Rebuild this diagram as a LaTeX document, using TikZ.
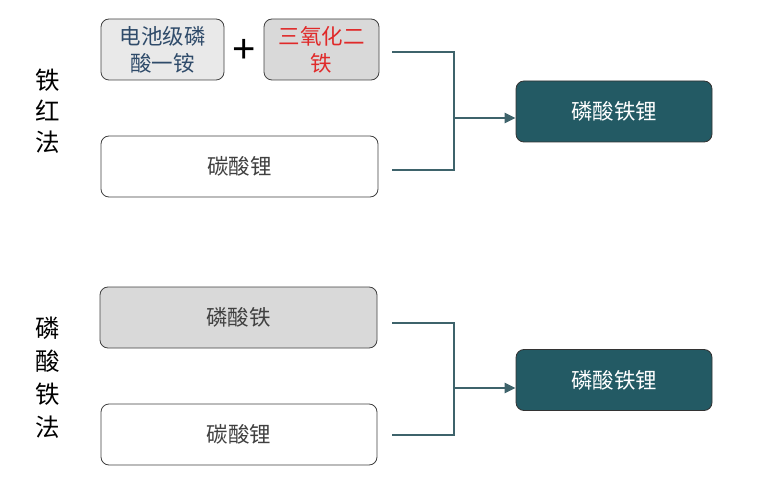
\documentclass[tikz,border=0pt]{standalone}
\usepackage{fontspec}
\setmainfont{Noto Sans CJK SC}
\newfontfamily\plusfont{Liberation Sans}
\usetikzlibrary{arrows.meta}
\definecolor{tealdark}{HTML}{235A64}
\definecolor{linecol}{HTML}{3E636B}
\definecolor{graybox}{HTML}{D9D9D9}
\definecolor{lightbox}{HTML}{E9E9E9}
\definecolor{bluetext}{HTML}{2F4B6A}
\definecolor{redtext}{HTML}{E02A2A}
\definecolor{graytext}{HTML}{404040}

\begin{document}
\begin{tikzpicture}[x=1pt,y=-1pt,
  every node/.style={inner sep=0pt},
  rawbox/.style={draw=black!75,line width=0.8pt,rounded corners=8pt,font=\fontsize{21.5}{27}\selectfont,text=graytext,align=center},
  prodbox/.style={draw=black!80,line width=0.8pt,rounded corners=8pt,fill=tealdark,text=white,font=\fontsize{21.5}{25}\selectfont,minimum width=196pt,minimum height=61pt},
  joinline/.style={draw=linecol,line width=1.3pt},
  feedarrow/.style={draw=linecol,line width=2.8pt,-{Triangle[length=11pt,width=10pt]}},
  sidelabel/.style={font=\fontsize{24.5}{31}\selectfont,align=center,text=black}]
\useasboundingbox (0,0) rectangle (765,486);
% iron red route
\node[rawbox,fill=lightbox,text=bluetext,minimum width=123pt,minimum height=61pt] (nh) at (162.5,49.5) {电池级磷\\酸一铵};
\node[font=\plusfont\fontsize{40}{40}\selectfont] (plus) at (244,51) {+};
\node[rawbox,fill=graybox,text=redtext,minimum width=115pt,minimum height=61pt] (fe) at (321.5,49.5) {三氧化二\\铁};
\node[rawbox,fill=white,minimum width=277pt,minimum height=61pt] (li1) at (239.5,166.5) {碳酸锂};
\node[prodbox] (lfp1) at (614,111.5) {磷酸铁锂};
\node[sidelabel] (route1) at (48,111) {铁\\红\\法};
\coordinate (j1a) at (392,52);
\coordinate (j1b) at (392,170);
\coordinate (j1m) at (454,118);
\draw[joinline] (j1a) -- (j1a -| j1m) -- (j1b -| j1m) -- (j1b);
\draw[feedarrow] (j1m) -- (lfp1.west |- j1m);
% iron phosphate route
\node[rawbox,fill=graybox,minimum width=277pt,minimum height=61pt] (fp) at (238.5,317.5) {磷酸铁};
\node[rawbox,fill=white,minimum width=276pt,minimum height=61pt] (li2) at (239,434.5) {碳酸锂};
\node[prodbox] (lfp2) at (614,380) {磷酸铁锂};
\node[sidelabel,font=\fontsize{24.5}{33}\selectfont] (route2) at (48,378) {磷\\酸\\铁\\法};
\coordinate (j2a) at (392,323);
\coordinate (j2b) at (392,435);
\coordinate (j2m) at (454,388);
\draw[joinline] (j2a) -- (j2a -| j2m) -- (j2b -| j2m) -- (j2b);
\draw[feedarrow] (j2m) -- (lfp2.west |- j2m);
\end{tikzpicture}
\end{document}
